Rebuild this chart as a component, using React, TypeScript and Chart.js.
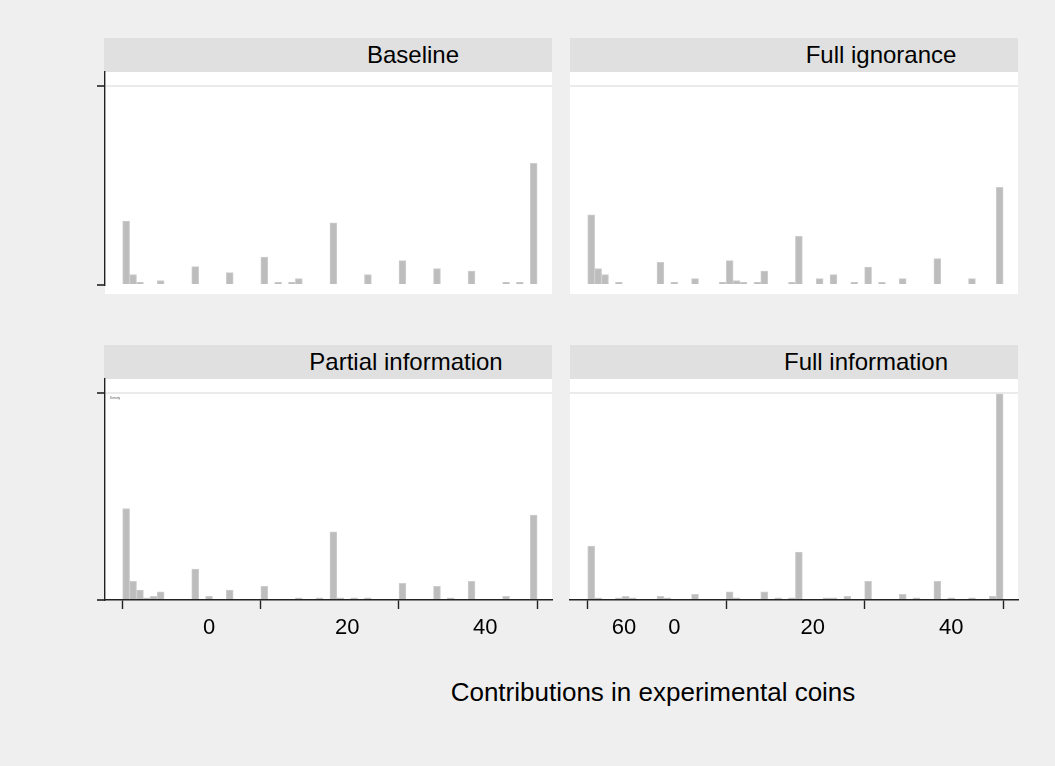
import React, { useEffect, useRef } from "react";
import { Chart, registerables } from "chart.js";

Chart.register(...registerables);

// ---------- data ----------
const baselineBins = [0, 1, 2, 5, 10, 15, 20, 22, 24, 25, 30, 35, 40, 45, 50, 55, 57, 59];
const baselineDensity = [0.16, 0.026, 0.007, 0.011, 0.046, 0.031, 0.07, 0.007, 0.007, 0.016, 0.156, 0.026, 0.061, 0.041, 0.035, 0.007, 0.007, 0.305];

const ignoranceBins = [0, 1, 2, 4, 10, 12, 15, 19, 20, 21, 22, 24, 25, 29, 30, 33, 35, 38, 40, 42, 45, 50, 55, 59];
const ignoranceDensity = [0.176, 0.041, 0.026, 0.007, 0.057, 0.007, 0.016, 0.007, 0.061, 0.011, 0.007, 0.007, 0.035, 0.007, 0.122, 0.016, 0.026, 0.007, 0.045, 0.007, 0.016, 0.066, 0.016, 0.245];

const partialBins = [0, 1, 2, 3, 4, 5, 10, 12, 15, 20, 25, 28, 30, 31, 33, 35, 40, 45, 47, 50, 55, 59];
const partialDensity = [0.221, 0.045, 0.024, 0.005, 0.009, 0.02, 0.075, 0.009, 0.024, 0.033, 0.005, 0.005, 0.165, 0.005, 0.005, 0.005, 0.04, 0.033, 0.005, 0.045, 0.009, 0.205];

const fullInfoBins = [0, 1, 4, 5, 6, 10, 11, 15, 20, 21, 25, 27, 29, 30, 34, 35, 37, 40, 45, 47, 50, 52, 55, 58, 59];
const fullInfoDensity = [0.13, 0.005, 0.005, 0.009, 0.005, 0.009, 0.005, 0.014, 0.02, 0.005, 0.02, 0.005, 0.005, 0.116, 0.005, 0.005, 0.009, 0.045, 0.014, 0.005, 0.045, 0.005, 0.005, 0.009, 0.498];

const panelTitles = ["Baseline", "Full ignorance", "Partial information", "Full information"];

const contributionTicks = [0, 20, 40, 60];
const densityTicks = [0, 0.5];

const leftLabelValues = [12.5, 32.5, 52.5];
const leftLabelTexts = ["0", "20", "40"];
const rightLabelValues = [5.25, 12.5, 32.5, 52.5];
const rightLabelTexts = ["60", "0", "20", "40"];

const xAxisTitle = "Contributions in experimental coins";

// ---------- style ----------
const FONT = '"Liberation Sans", Arial, Helvetica, sans-serif';
const X_MIN = -2.56;
const X_MAX = 62.15;
const Y_MAX = 0.534;

type PanelProps = {
  bins: number[];
  values: number[];
  showY: boolean;
  showX: boolean;
  labelValues: number[];
  labelTexts: string[];
  left: number;
  top: number;
  width: number;
  height: number;
};

function Panel(p: PanelProps) {
  const ref = useRef<HTMLCanvasElement | null>(null);
  const padL = 20;
  const padT = 5;
  const padR = 5;
  const bottomExtra = p.showX ? 62 : 5;
  const cw = p.width + padL + padR;
  const ch = p.height + padT + bottomExtra;

  useEffect(() => {
    if (!ref.current) return;
    const data = p.bins.map((b, i) => ({ x: b + 0.5, y: p.values[i] }));
    const chart = new Chart(ref.current, {
      type: "bar",
      data: {
        datasets: [
          {
            data: data as any,
            backgroundColor: "#bdbdbd",
            borderColor: "#cdcdcd",
            borderWidth: 1,
            barPercentage: 1,
            categoryPercentage: 1,
          },
        ],
      },
      options: {
        responsive: false,
        animation: false,
        events: [],
        layout: {
          padding: { left: p.showY ? 0 : padL, right: padR, top: padT, bottom: p.showX ? 0 : 5 },
        },
        plugins: { legend: { display: false }, tooltip: { enabled: false } },
        scales: {
          x: {
            type: "linear",
            min: X_MIN,
            max: X_MAX,
            offset: false,
            display: p.showX,
            afterBuildTicks: (s: any) => {
              s.ticks = contributionTicks.map((v) => ({ value: v }));
            },
            afterFit: (s: any) => {
              s.height = 9;
            },
            grid: {
              display: true,
              offset: false,
              drawOnChartArea: false,
              color: "transparent",
              tickColor: "#222",
              tickLength: 9,
              tickWidth: 1.4,
            },
            border: { display: true, color: "#222", width: 1.4 },
            ticks: { display: false },
          },
          xl: {
            type: "linear",
            position: "bottom",
            min: X_MIN,
            max: X_MAX,
            offset: false,
            display: p.showX,
            afterBuildTicks: (s: any) => {
              s.ticks = p.labelValues.map((v) => ({ value: v }));
            },
            afterFit: (s: any) => {
              s.height = bottomExtra - 9;
            },
            grid: { display: false, drawTicks: false, offset: false },
            border: { display: false },
            ticks: {
              display: true,
              autoSkip: false,
              maxRotation: 0,
              padding: 6,
              color: "#000",
              font: { family: FONT, size: 22 },
              callback: (_v: any, i: number) => p.labelTexts[i],
            },
          },
          y: {
            type: "linear",
            min: 0,
            max: Y_MAX,
            display: true,
            afterBuildTicks: (s: any) => {
              s.ticks = densityTicks.map((v) => ({ value: v }));
            },
            afterFit: (s: any) => {
              s.width = p.showY ? padL : 0;
            },
            grid: {
              display: true,
              color: (ctx: any) => (ctx.tick && ctx.tick.value === 0.5 ? "#ebebeb" : "transparent"),
              lineWidth: 2,
              drawTicks: p.showY,
              tickColor: "#222",
              tickLength: 8,
              tickWidth: 1.6,
            },
            border: { display: p.showY, color: "#222", width: 1.4 },
            ticks: { display: false },
          },
        },
      } as any,
    });
    return () => chart.destroy();
  }, []);

  return (
    <canvas
      ref={ref}
      width={cw}
      height={ch}
      style={{
        position: "absolute",
        left: p.left - padL,
        top: p.top - padT,
        width: cw,
        height: ch,
      }}
    />
  );
}

function Header(props: { left: number; top: number; width: number; text: string; cx: number }) {
  return (
    <>
      <div
        style={{
          position: "absolute",
          left: props.left,
          top: props.top,
          width: props.width,
          height: 34,
          background: "#e0e0e0",
        }}
      />
      <div
        style={{
          position: "absolute",
          left: props.cx - 200,
          top: props.top,
          width: 400,
          height: 34,
          lineHeight: "34px",
          textAlign: "center",
          fontFamily: FONT,
          fontSize: 24,
          color: "#000",
          whiteSpace: "nowrap",
        }}
      >
        {props.text}
      </div>
    </>
  );
}

export default function App() {
  return (
    <div
      style={{
        position: "fixed",
        left: 0,
        top: 0,
        width: 1055,
        height: 766,
        background: "#efefef",
        overflow: "hidden",
      }}
    >
      <div style={{ position: "absolute", left: 105, top: 72, width: 447, height: 222, background: "#fff" }} />
      <div style={{ position: "absolute", left: 570, top: 72, width: 448, height: 222, background: "#fff" }} />
      <div style={{ position: "absolute", left: 105, top: 379, width: 447, height: 221, background: "#fff" }} />
      <div style={{ position: "absolute", left: 570, top: 379, width: 448, height: 221, background: "#fff" }} />

      <Header left={104} top={38} width={448} text={panelTitles[0]} cx={413} />
      <Header left={570} top={38} width={448} text={panelTitles[1]} cx={881} />
      <Header left={104} top={345} width={448} text={panelTitles[2]} cx={406} />
      <Header left={570} top={345} width={448} text={panelTitles[3]} cx={866} />

      <Panel bins={baselineBins} values={baselineDensity} showY={true} showX={false}
        labelValues={leftLabelValues} labelTexts={leftLabelTexts} left={105} top={72} width={447} height={222} />
      <Panel bins={ignoranceBins} values={ignoranceDensity} showY={false} showX={false}
        labelValues={rightLabelValues} labelTexts={rightLabelTexts} left={570} top={72} width={448} height={222} />
      <Panel bins={partialBins} values={partialDensity} showY={true} showX={true}
        labelValues={leftLabelValues} labelTexts={leftLabelTexts} left={105} top={379} width={447} height={221} />
      <Panel bins={fullInfoBins} values={fullInfoDensity} showY={false} showX={true}
        labelValues={rightLabelValues} labelTexts={rightLabelTexts} left={570} top={379} width={448} height={221} />

      <div
        style={{
          position: "absolute",
          left: 110,
          top: 396,
          fontFamily: FONT,
          fontSize: 3,
          color: "#555",
          whiteSpace: "nowrap",
        }}
      >
        Density
      </div>

      <div
        style={{
          position: "absolute",
          left: 653 - 300,
          top: 692 - 17,
          width: 600,
          height: 34,
          lineHeight: "34px",
          textAlign: "center",
          fontFamily: FONT,
          fontSize: 26,
          color: "#000",
          whiteSpace: "nowrap",
        }}
      >
        {xAxisTitle}
      </div>
    </div>
  );
}
